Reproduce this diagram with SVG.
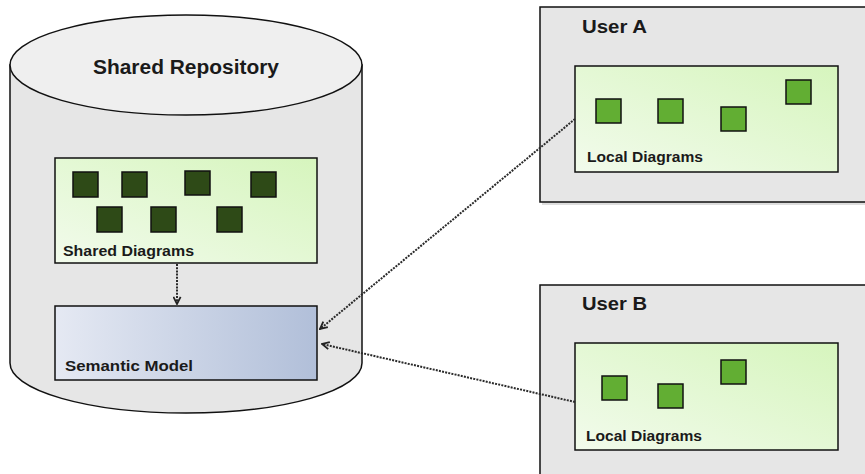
<svg xmlns="http://www.w3.org/2000/svg" width="865" height="474" viewBox="0 0 865 474">
<style>
.t{font-family:"Liberation Sans",Arial,sans-serif;font-weight:bold;fill:#1a1a1a}
.dk{fill:#2e4a17;stroke:#111;stroke-width:1.5}
.lg{fill:#62ae33;stroke:#111;stroke-width:1.5}
.conn{fill:none;stroke:#2a2a2a;stroke-width:2;stroke-dasharray:2 1.2}
.box{stroke:#111;stroke-width:1.5}
</style>
<defs>
<linearGradient id="green" x1="0" y1="1" x2="1" y2="0">
<stop offset="0" stop-color="#f2fbec"/>
<stop offset="1" stop-color="#d6f5bd"/>
</linearGradient>
<linearGradient id="blue" x1="0" y1="0" x2="1" y2="0">
<stop offset="0" stop-color="#e5e9f3"/>
<stop offset="1" stop-color="#b1bfd9"/>
</linearGradient>
<marker id="ah2" viewBox="0 0 10 10" refX="9" refY="5" markerWidth="9" markerHeight="9" orient="auto" markerUnits="userSpaceOnUse">
<path d="M1,1 L9,5 L1,9" fill="none" stroke="#222" stroke-width="2"/>
</marker>
</defs>
<rect width="865" height="474" fill="#fff"/>

<g id="repository">
<path d="M10,65 L10,363 A176,50 0 0 0 362,363 L362,65 Z" fill="#e6e6e6" class="box"/>
<ellipse cx="186" cy="65" rx="176" ry="50" fill="#efefef" class="box"/>
<text class="t" x="93" y="74" font-size="20" textLength="186" lengthAdjust="spacingAndGlyphs">Shared Repository</text>
</g>

<g id="shared-diagrams">
<rect x="55" y="158" width="262" height="105" fill="url(#green)" class="box"/>
<rect class="dk" x="73" y="172" width="25" height="25"/>
<rect class="dk" x="122" y="172" width="25" height="25"/>
<rect class="dk" x="185" y="171" width="25" height="24"/>
<rect class="dk" x="251" y="172" width="25" height="25"/>
<rect class="dk" x="97" y="207" width="25" height="25"/>
<rect class="dk" x="151" y="207" width="25" height="25"/>
<rect class="dk" x="217" y="207" width="25" height="25"/>
<text class="t" x="63" y="256" font-size="14.5" textLength="131" lengthAdjust="spacingAndGlyphs">Shared Diagrams</text>
</g>

<g id="semantic-model">
<rect x="55" y="306" width="262" height="74" fill="url(#blue)" class="box"/>
<text class="t" x="65" y="371" font-size="14.5" textLength="128" lengthAdjust="spacingAndGlyphs">Semantic Model</text>
</g>

<g id="user-a">
<rect x="542" y="10" width="330" height="195" fill="#c8c8c8" opacity="0.6"/>
<rect x="540" y="7" width="330" height="195" fill="#e6e6e6" class="box"/>
<text class="t" x="582" y="33" font-size="19" textLength="65" lengthAdjust="spacingAndGlyphs">User A</text>
<rect x="575" y="66" width="263" height="106" fill="url(#green)" class="box"/>
<rect class="lg" x="596" y="99" width="25" height="24"/>
<rect class="lg" x="658" y="99" width="25" height="24"/>
<rect class="lg" x="721" y="107" width="25" height="24"/>
<rect class="lg" x="786" y="80" width="25" height="24"/>
<text class="t" x="587" y="162" font-size="14" textLength="116" lengthAdjust="spacingAndGlyphs">Local Diagrams</text>
</g>

<g id="user-b">
<rect x="542" y="288" width="330" height="200" fill="#c8c8c8" opacity="0.6"/>
<rect x="540" y="285" width="330" height="200" fill="#e6e6e6" class="box"/>
<text class="t" x="582" y="310" font-size="19" textLength="65" lengthAdjust="spacingAndGlyphs">User B</text>
<rect x="575" y="343" width="263" height="107" fill="url(#green)" class="box"/>
<rect class="lg" x="602" y="376" width="25" height="24"/>
<rect class="lg" x="658" y="384" width="25" height="24"/>
<rect class="lg" x="721" y="360" width="25" height="24"/>
<text class="t" x="586" y="441" font-size="14" textLength="116" lengthAdjust="spacingAndGlyphs">Local Diagrams</text>
</g>

<g id="connectors">
<line class="conn" x1="177" y1="264" x2="177" y2="304" marker-end="url(#ah2)"/>
<line class="conn" x1="575" y1="119" x2="320" y2="329" marker-end="url(#ah2)"/>
<line class="conn" x1="575" y1="402" x2="322" y2="344" marker-end="url(#ah2)"/>
</g>
</svg>
